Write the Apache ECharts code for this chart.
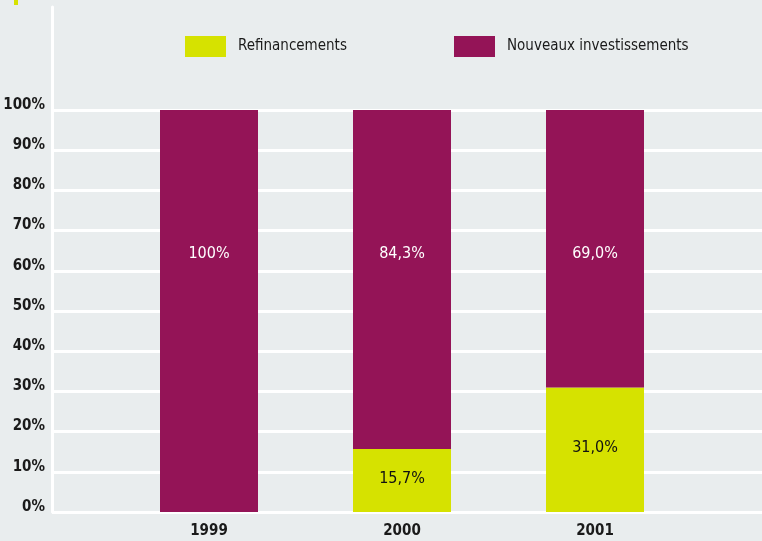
<!DOCTYPE html>
<html>
<head>
<meta charset="utf-8">
<script src="https://cdn.jsdelivr.net/npm/echarts@6/dist/echarts.min.js"></script>
<style>
html,body{margin:0;padding:0;background:#e9edee;}
#c{width:762px;height:541px;}
</style>
</head>
<body>
<div id="c"></div>
<script>
const categories = ['1999', '2000', '2001'];
const refinancements = [0, 15.7, 31.0];
const nouveaux = [100, 84.3, 69.0];
const yTicks = [0, 10, 20, 30, 40, 50, 60, 70, 80, 90, 100];
const legendNames = ['Refinancements', 'Nouveaux investissements'];

const FONT = "'DejaVu Sans', sans-serif";
const STRETCH = 'condensed';
const YELLOW = '#d6e200';
const PURPLE = '#941457';
const TEXT = '#1a1a1a';

function fmt(v) {
  if (v === 100) return '100%';
  return v.toFixed(1).replace('.', ',') + '%';
}

const legendCommon = {
  top: 36,
  padding: 0,
  itemWidth: 41,
  itemHeight: 21,
  icon: 'rect',
  textStyle: { fontFamily: FONT, fontStyle: STRETCH, fontSize: 15, color: TEXT, padding: [0, 0, 0, 7] }
};

const chart = echarts.init(document.getElementById('c'));
chart.setOption({
  backgroundColor: '#e9edee',
  animation: false,
  textStyle: { fontFamily: FONT },
  legend: [
    Object.assign({ left: 185, data: [legendNames[0]] }, legendCommon),
    Object.assign({ left: 454, data: [legendNames[1]] }, legendCommon)
  ],
  graphic: [{
    type: 'rect',
    shape: { x: 14, y: 0, width: 4, height: 5 },
    style: { fill: YELLOW }
  }],
  grid: [
    { left: 52, right: 0, top: 110, bottom: 29, outerBoundsMode: 'none' },
    { left: 52, right: 0, top: 7, bottom: 29, outerBoundsMode: 'none' },
    { left: 112.5, right: 70.5, top: 110, bottom: 29, outerBoundsMode: 'none' }
  ],
  xAxis: [
    { gridIndex: 0, type: 'value', show: false },
    { gridIndex: 1, type: 'value', show: false },
    {
      gridIndex: 2, type: 'category', data: categories,
      axisLine: { show: false }, axisTick: { show: false },
      axisLabel: { margin: 12, fontFamily: FONT, fontStyle: STRETCH, fontSize: 15, fontWeight: 'bold', color: TEXT }
    }
  ],
  yAxis: [
    {
      gridIndex: 0, type: 'value', min: yTicks[0], max: yTicks[yTicks.length - 1], interval: 10,
      axisLine: { show: false }, axisTick: { show: false },
      splitLine: { show: true, lineStyle: { color: '#ffffff', width: 3 } },
      axisLabel: {
        margin: 7, fontFamily: FONT, fontStyle: STRETCH, fontSize: 15, fontWeight: 'bold', color: TEXT,
        verticalAlign: 'bottom', lineHeight: 10,
        formatter: v => v + '%'
      }
    },
    {
      gridIndex: 1, type: 'value', min: 0, max: 100,
      axisLine: { show: true, lineStyle: { color: '#ffffff', width: 3 } },
      axisTick: { show: false }, axisLabel: { show: false }, splitLine: { show: false }
    },
    { gridIndex: 2, type: 'value', min: 0, max: 100, show: false }
  ],
  series: [
    {
      name: legendNames[0], type: 'bar', stack: 'a',
      xAxisIndex: 2, yAxisIndex: 2, barWidth: 98,
      itemStyle: { color: YELLOW },
      data: refinancements,
      label: {
        show: true, position: 'inside', offset: [0, -2],
        fontFamily: FONT, fontStyle: STRETCH, fontSize: 16, color: '#111',
        formatter: p => p.value > 0 ? fmt(p.value) : ''
      }
    },
    {
      name: legendNames[1], type: 'bar', stack: 'a',
      xAxisIndex: 2, yAxisIndex: 2, barWidth: 98,
      itemStyle: { color: PURPLE },
      data: nouveaux,
      label: {
        show: true, position: ['50%', 144], align: 'center', verticalAlign: 'middle',
        fontFamily: FONT, fontStyle: STRETCH, fontSize: 16, color: '#ffffff',
        formatter: p => fmt(p.value)
      }
    }
  ]
});
</script>
</body>
</html>
